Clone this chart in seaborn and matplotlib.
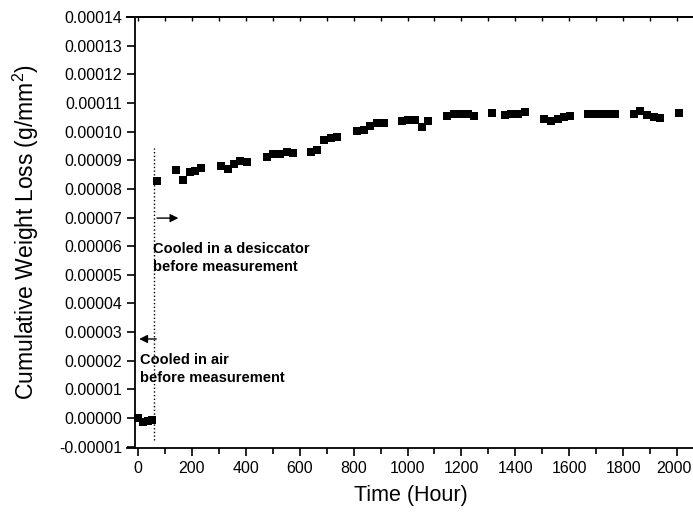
import matplotlib
matplotlib.use('Agg')
import matplotlib.pyplot as plt
import matplotlib.transforms as mtransforms
import seaborn as sns
import pandas as pd
from matplotlib.ticker import MultipleLocator, FormatStrFormatter

# data (time in hours, loss in 1e-5 g/mm^2)
air_time = [0, 20, 36, 50]
air_loss = [0.00, -0.15, -0.12, -0.08]

desic_time = [70, 141, 165, 191, 212, 235, 308, 333, 355, 380, 405,
              477, 502, 526, 551, 575, 641, 665, 690, 717, 740,
              812, 837, 859, 886, 911, 978, 1003, 1028, 1053, 1077,
              1147, 1174, 1199, 1224, 1246, 1315, 1361, 1385, 1410, 1435,
              1507, 1532, 1557, 1582, 1603, 1671, 1696, 1721, 1746, 1770,
              1839, 1863, 1888, 1913, 1938, 2006]
desic_loss = [8.27, 8.67, 8.30, 8.60, 8.63, 8.74, 8.79, 8.70, 8.86, 8.97, 8.95,
              9.11, 9.21, 9.23, 9.28, 9.25, 9.30, 9.35, 9.72, 9.79, 9.82,
              10.02, 10.07, 10.18, 10.30, 10.30, 10.37, 10.42, 10.42, 10.16, 10.37,
              10.53, 10.60, 10.63, 10.60, 10.56, 10.65, 10.58, 10.60, 10.60, 10.70,
              10.45, 10.37, 10.45, 10.51, 10.53, 10.63, 10.63, 10.63, 10.63, 10.63,
              10.63, 10.72, 10.57, 10.51, 10.49, 10.65]

df = pd.DataFrame({
    'time': air_time + desic_time,
    'loss': [v * 1e-5 for v in air_loss + desic_loss],
})

sns.set_style('ticks', {'axes.edgecolor': 'black', 'axes.labelcolor': 'black',
                        'text.color': 'black', 'xtick.color': 'black',
                        'ytick.color': 'black'})
plt.rcParams['font.family'] = ['Liberation Sans', 'DejaVu Sans']
plt.rcParams['mathtext.default'] = 'regular'

fig = plt.figure(figsize=(6.93, 5.15), dpi=100)
ax = fig.add_axes([127 / 693, 67 / 515, 1.0 - 127 / 693 + 0.003, 431 / 515])

sns.scatterplot(data=df, x='time', y='loss', ax=ax, marker='s', s=34,
                color='black', edgecolor='black', linewidth=0)

ax.set_xlim(-41, 2067)
ax.set_ylim(-0.00001046, 0.00014)

ax.spines['left'].set_position(('data', -11))
ax.spines['right'].set_visible(False)
for sp in ['left', 'bottom', 'top']:
    ax.spines[sp].set_linewidth(1.3)

ax.xaxis.set_major_locator(MultipleLocator(200))
ax.xaxis.set_minor_locator(MultipleLocator(100))
ax.yaxis.set_major_locator(MultipleLocator(0.00001))
ax.yaxis.set_major_formatter(FormatStrFormatter('%.5f'))
ax.tick_params(axis='both', which='major', labelsize=11.5, length=6, width=1.2, direction='out')
ax.tick_params(axis='x', which='minor', length=4, width=1.2, direction='out')

top = ax.secondary_xaxis('top')
top.xaxis.set_major_locator(MultipleLocator(100))
top.tick_params(direction='in', length=3, width=1, labeltop=False)
top.spines['top'].set_linewidth(1.3)

ax.set_xlabel('Time (Hour)', fontsize=15.5, labelpad=6)
ax.set_ylabel('Cumulative Weight Loss (g/mm$^2$)', fontsize=16.5, labelpad=13)

# keep the last x tick label inside the figure
fig.canvas.draw()
for lbl in ax.get_xticklabels():
    if lbl.get_text() == '2000':
        shift = mtransforms.ScaledTranslation(-3 / 100, 0, fig.dpi_scale_trans)
        lbl.set_transform(lbl.get_transform() + shift)

# dotted line separating the two cooling procedures
ax.vlines(60, -0.0000077, 0.0000942, colors='black', linestyles=':', linewidth=1)

ax.annotate('', xy=(160, 0.0000698), xytext=(60, 0.0000698),
            arrowprops=dict(arrowstyle='-|>', color='black', lw=1, mutation_scale=12))
ax.annotate('', xy=(-6, 0.0000276), xytext=(78, 0.0000276),
            arrowprops=dict(arrowstyle='-|>', color='black', lw=1, mutation_scale=12))

ax.text(56, 0.0000615, 'Cooled in a desiccator\nbefore measurement', fontsize=10.5,
        fontweight='bold', va='top', ha='left', linespacing=1.35)
ax.text(6, 0.0000228, 'Cooled in air\nbefore measurement', fontsize=10.5,
        fontweight='bold', va='top', ha='left', linespacing=1.35)

fig.savefig('out.png', dpi=100)
